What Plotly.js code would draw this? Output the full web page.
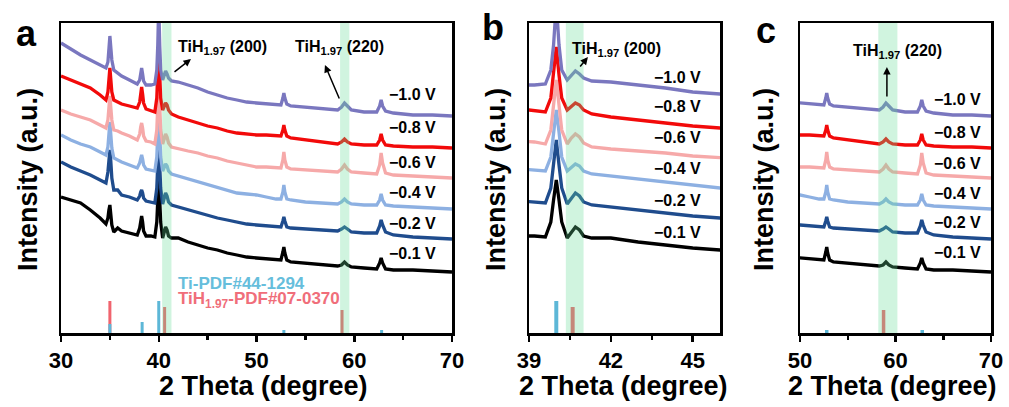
<!DOCTYPE html>
<html>
<head>
<meta charset="utf-8">
<script src="https://cdn.plot.ly/plotly-3.0.1.min.js"></script>
<style>html,body{margin:0;padding:0;background:#fff;}#chart{width:1009px;height:407px;}</style>
</head>
<body>
<div id="chart"></div>
<script>
// 2-theta sampling grid (degree)
const theta = [30,31,32,33,34,34.6,34.8,34.9,35.0,35.1,35.2,35.4,35.8,36.2,37,37.8,38.05,38.15,38.25,38.35,38.45,38.7,39.2,39.6,39.8,39.9,40.0,40.1,40.2,40.4,40.55,40.7,40.85,41.0,41.3,42,43,44,45,46,47,48,49,50,51,52,52.5,52.7,52.8,52.9,53.1,53.5,55,57,58.3,58.7,59.0,59.3,59.7,61,62.3,62.6,62.75,62.9,63.2,64,66,68,70];

// stacked intensities (a.u.)
const int_m10 = [290,284,278,273,268,265,271,283,297,285, 273,263,260,257,253,249,253,260,265,259, 252,248,248,249,263,288,330,288,263,253, 257,262,259,255,252,251,248,245,241,238, 235,233,231,230,229,228,228,235,240,235, 229,227,226,224,223,226,230,227,223,221, 221,227,233,227,222,220,218,218,217];
const int_m08 = [257,253,249,245,238,233,241,253,265,253, 241,233,231,229,227,225,231,240,246,239, 230,224,222,221,235,258,286,258,235,223, 227,230,228,223,219,216,213,210,207,205, 202,200,199,198,198,197,197,203,208,203, 197,195,193,191,189,191,194,191,189,188, 188,193,199,193,188,187,186,186,185];
const int_m06 = [223,219,216,213,208,205,213,225,237,225, 213,203,202,200,197,193,199,206,210,205, 197,192,191,189,203,228,253,228,203,189, 195,199,196,190,186,184,182,180,177,175, 172,170,168,166,166,165,165,173,181,173, 166,164,163,162,161,164,168,164,161,160, 159,168,180,170,160,158,157,156,155];
const int_m04 = [198,193,189,186,181,178,186,198,211,198, 185,175,173,171,168,165,170,175,178,174, 168,164,163,162,176,201,223,201,176,162, 166,169,167,162,159,157,154,151,148,145, 142,140,139,138,136,134,134,141,148,141, 134,133,131,130,129,131,134,131,129,128, 128,133,139,133,128,127,126,125,124];
const int_m02 = [171,166,162,158,153,150,161,173,183,171, 155,143,143,138,136,133,137,141,143,140, 135,132,131,130,145,168,193,168,145,129, 135,140,137,131,128,126,123,120,117,115, 113,111,109,108,107,106,106,112,116,112, 106,105,104,103,102,104,106,104,101,100, 100,107,113,108,101,98,96,95,94];
const int_m01 = [136,133,130,123,115,109,115,123,128,118, 108,101,105,102,100,98,105,113,117,111, 102,97,97,96,111,133,153,133,111,95, 101,106,103,97,95,95,91,88,85,83, 80,78,76,75,74,73,73,81,86,80, 73,71,70,68,67,68,71,68,66,65, 64,70,75,70,64,63,63,62,61];

const voltages = ['\u22121.0 V','\u22120.8 V','\u22120.6 V','\u22120.4 V','\u22120.2 V','\u22120.1 V'];
const series = [int_m10,int_m08,int_m06,int_m04,int_m02,int_m01];
const colors = ['#7a77bf','#f20a0a','#f6a9a9','#8db0e2','#1f4c8d','#000000'];

// reference patterns
const tiPos = [35.0, 38.3, 40.0, 52.8, 62.8];
const tiInt = [9, 11, 32, 3, 3];
const tihPos = [35.0, 40.6, 58.75];
const tihInt = [32, 26, 23];

// label positions per panel (data coords)
const labelY = {a:[238,205,171,141,110,80], b:[255,226,196,165,133,101], c:[233,201,170,140,111,81]};
const labelX = {a:63.35, b:43.5, c:63.8};

const FONT = 'Liberation Sans, Arial, sans-serif';
const panels = [{k:'a',xa:'x',ya:'y',sw:3},{k:'b',xa:'x2',ya:'y2',sw:4},{k:'c',xa:'x3',ya:'y3',sw:3.5}];

function sticks(pos, h){
  const xs=[], ys=[];
  pos.forEach((p,i)=>{xs.push(p,p,null); ys.push(0,h[i],null);});
  return {xs, ys};
}

const traces = [];
panels.forEach(p=>{
  for (let i=series.length-1;i>=0;i--){
    traces.push({x:theta, y:series[i], xaxis:p.xa, yaxis:p.ya, type:'scatter', mode:'lines',
      line:{color:colors[i], width:3.3}, showlegend:false, hoverinfo:'skip'});
  }
  const t2 = sticks(tihPos, tihInt);
  traces.push({x:t2.xs, y:t2.ys, xaxis:p.xa, yaxis:p.ya, mode:'lines', line:{color:'#f0646e', width:p.sw}, showlegend:false});
  const t1 = sticks(tiPos, tiInt);
  traces.push({x:t1.xs, y:t1.ys, xaxis:p.xa, yaxis:p.ya, mode:'lines', line:{color:'#5db7d7', width:p.sw}, showlegend:false});
});

const W=1009, H=407;
const px = v=>v/W, py = v=>1-v/H;
const ydom=[py(333), py(23)];

function xax(dom, range, dtick, tick0, minorD){
  return {domain:dom, range:range, dtick:dtick, tick0:tick0, tickmode:'linear',
    showline:true, mirror:true, linewidth:2.5, linecolor:'#000', showgrid:false, zeroline:false,
    ticks:'outside', ticklen:6, tickwidth:2.5, tickcolor:'#000',
    minor:{ticks:'outside', ticklen:4, tickwidth:2.5, tickcolor:'#000', dtick:minorD, tick0:tick0, showgrid:false},
    tickfont:{family:FONT, size:22, color:'#000', weight:'bold'}};
}
function yax(anchor){
  return {domain:ydom, range:[0,310], anchor:anchor, showline:true, mirror:true, linewidth:2.5, linecolor:'#000',
    showgrid:false, zeroline:false, ticks:'', showticklabels:false, fixedrange:true};
}

const annotations = [];
const lblFont = {family:FONT, size:16, color:'#000', weight:'bold'};
panels.forEach(p=>{
  voltages.forEach((v,i)=>{
    annotations.push({xref:p.xa, yref:p.ya, x:labelX[p.k], y:labelY[p.k][i], text:'<b>'+v+'</b>', showarrow:false,
      xanchor:'left', yanchor:'middle', font:lblFont});
  });
});
const hkl = {family:FONT, size:16, color:'#000'};
function peakNote(xa, ya, x, y, text){
  annotations.push({xref:xa, yref:ya, x:x, y:y, text:'<b>TiH<sub>1.97</sub> '+text+'</b>', showarrow:false, xanchor:'center', yanchor:'middle', font:hkl});
}
function arrow(xa, ya, x, y, ax, ay){
  annotations.push({xref:xa, yref:ya, x:x, y:y, text:'', showarrow:true, ax:ax, ay:ay, arrowhead:2, arrowsize:1, arrowwidth:1.5, arrowcolor:'#000', standoff:0, startstandoff:0});
}
peakNote('x','y',46.57,285,'(200)');
peakNote('x','y',58.5,285,'(220)');
peakNote('x2','y2',42.22,283,'(200)');
peakNote('x3','y3',60.26,281,'(220)');
arrow('x','y',43.3,274,-18,14);
arrow('x','y',57.0,268,15,35);
arrow('x2','y2',41.16,276,-9,11);
arrow('x3','y3',59.1,266,0,31);

annotations.push({xref:'x',yref:'y',x:41.75,y:50,text:'<b>Ti-PDF#44-1294</b>',showarrow:false,xanchor:'left',yanchor:'middle',font:{family:FONT,size:17,color:'#66bedc'}});
annotations.push({xref:'x',yref:'y',x:41.75,y:33,text:'<b>TiH<sub>1.97</sub>-PDF#07-0370</b>',showarrow:false,xanchor:'left',yanchor:'middle',font:{family:FONT,size:17,color:'#f06e7a'}});

// panel letters and axis titles
[['a',26,33],['b',493,27],['c',766,30]].forEach(d=>{
  annotations.push({xref:'paper',yref:'paper',x:px(d[1]),y:py(d[2]),text:'<b>'+d[0]+'</b>',showarrow:false,xanchor:'center',yanchor:'middle',font:{family:FONT,size:36,color:'#000'}});
});
[28,496,764].forEach(x=>{
  annotations.push({xref:'paper',yref:'paper',x:px(x),y:py(180),text:'<b>Intensity (a.u.)</b>',textangle:-90,showarrow:false,xanchor:'center',yanchor:'middle',font:{family:FONT,size:27,color:'#000'}});
});
[263,623,892].forEach(x=>{
  annotations.push({xref:'paper',yref:'paper',x:px(x),y:py(386),text:'<b>2 Theta (degree)</b>',showarrow:false,xanchor:'center',yanchor:'middle',font:{family:FONT,size:27,color:'#000'}});
});

const band = (xa, ya, x0, x1)=>({type:'rect', xref:xa, yref:ya+' domain', x0:x0, x1:x1, y0:0, y1:1, fillcolor:'rgb(100,220,150)', opacity:0.3, line:{width:0}, layer:'above'});
const shapes = [band('x','y',40.35,41.3), band('x','y',58.55,59.5), band('x2','y2',40.35,41.0), band('x3','y3',58.2,60.2)];

const layout = {
  width:W, height:H, margin:{l:0,r:0,t:0,b:0}, paper_bgcolor:'#fff', plot_bgcolor:'#fff',
  font:{family:FONT, color:'#000'}, showlegend:false,
  xaxis:xax([px(61),px(452)],[30,70],10,30,5),
  yaxis:yax('x'),
  xaxis2:Object.assign(xax([px(529),px(720)],[39,46],3,39,1.5),{anchor:'y2'}),
  yaxis2:yax('x2'),
  xaxis3:Object.assign(xax([px(800),px(991)],[50,70],10,50,5),{anchor:'y3'}),
  yaxis3:yax('x3'),
  annotations:annotations, shapes:shapes
};
layout.xaxis.anchor='y';
Plotly.newPlot('chart', traces, layout, {staticPlot:true, displayModeBar:false});
</script>
</body>
</html>
